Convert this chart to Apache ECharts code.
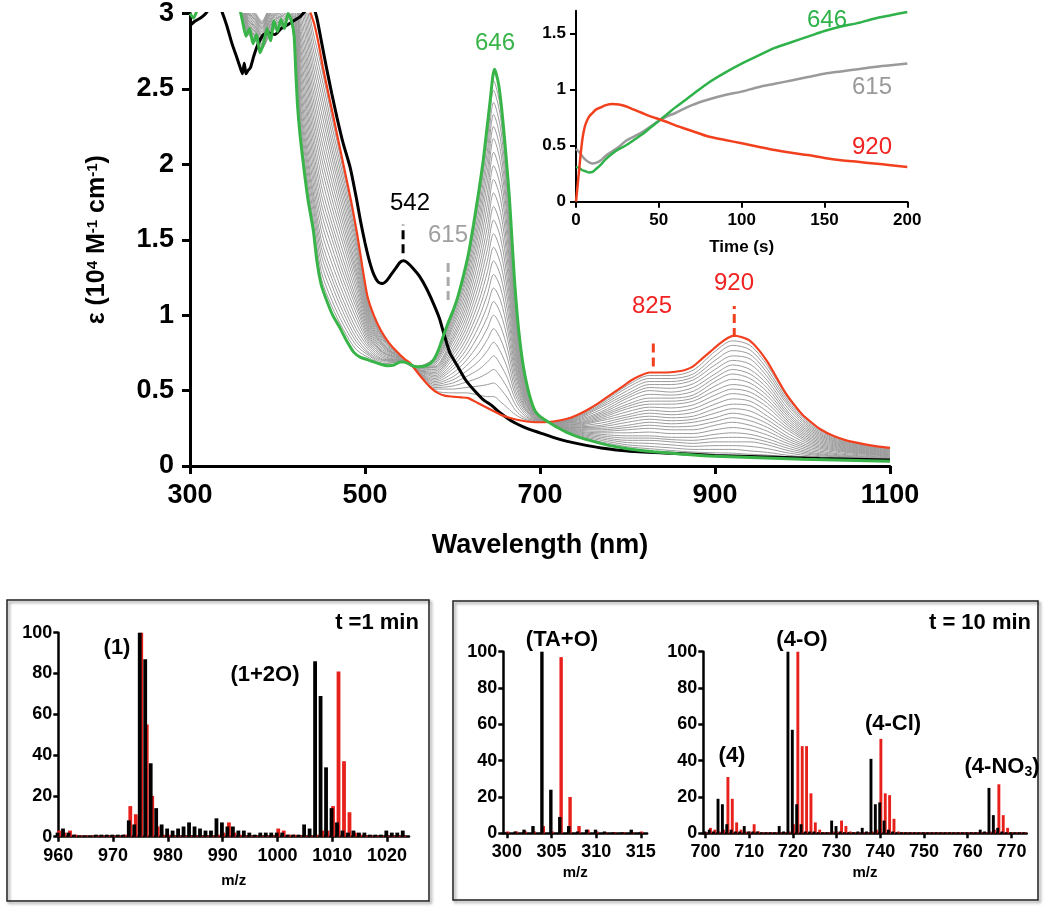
<!DOCTYPE html>
<html>
<head>
<meta charset="utf-8">
<script src="https://cdn.jsdelivr.net/npm/echarts@6/dist/echarts.min.js"></script>
<style>html,body{margin:0;padding:0;background:#fff}#c{width:1050px;height:911px}</style>
</head>
<body>
<div id="c"></div>
<script>
// ---------------- DATA ----------------
// Main UV-vis spectra (wavelength nm, epsilon 10^4 M-1 cm-1)
const blackWl = [300,306,312,318,324,330,336,342,348,354,358,360,362,364,366,369,373,378,384,390,397,404,410,418,426,434,440,445,450,456,462,468,475,483,490,495,500,505,510,515,520,525,530,535,540,544,548,555,562,570,578,585,590,597,605,615,625,635,645,655,670,685,700,715,730,750,770,800,850,900,960,1020,1100];
const blackEps = [2.92,2.95,2.97,3.0,3.05,3.1,3.02,2.92,2.8,2.7,2.63,2.6,2.67,2.6,2.62,2.64,2.72,2.8,2.86,2.87,2.86,2.9,2.92,2.95,2.98,3.03,3.05,2.97,2.82,2.64,2.47,2.31,2.14,1.98,1.78,1.62,1.48,1.36,1.27,1.22,1.21,1.23,1.27,1.31,1.35,1.36,1.35,1.31,1.26,1.18,1.08,0.98,0.88,0.75,0.67,0.57,0.5,0.44,0.4,0.35,0.29,0.25,0.22,0.19,0.165,0.14,0.12,0.1,0.085,0.07,0.06,0.05,0.04];

const redWl = [430,437,442,447,452,460,468,476,484,491,497,503,510,518,527,536,545,552,560,567,575,583,592,600,610,618,625,635,645,655,665,675,685,695,705,715,725,735,745,755,765,775,785,795,805,815,825,835,845,855,865,875,885,895,905,915,922,930,940,950,960,970,980,990,1000,1010,1020,1035,1050,1070,1085,1100];
const redEps = [3.2,3.02,2.93,2.8,2.64,2.42,2.2,1.98,1.76,1.54,1.32,1.12,1.0,0.9,0.82,0.76,0.71,0.68,0.62,0.57,0.52,0.485,0.465,0.46,0.455,0.45,0.43,0.4,0.37,0.34,0.32,0.305,0.295,0.29,0.29,0.295,0.305,0.32,0.345,0.375,0.41,0.45,0.49,0.53,0.57,0.6,0.62,0.62,0.62,0.625,0.635,0.66,0.71,0.76,0.81,0.85,0.865,0.855,0.83,0.77,0.69,0.59,0.49,0.41,0.34,0.29,0.245,0.2,0.17,0.145,0.13,0.12];

const greenWl = [300,304,308,312,340,356,360,364,368,372,376,380,384,388,392,396,400,404,408,412,416,419,421,423,426,430,435,441,445,450,456,463,471,479,487,495,503,510,518,526,533,540,545,551,558,565,572,578,584,590,595,600,606,612,618,624,630,635,639,643,646,648,650,653,656,659,662,665,668,671,674,677,681,685,690,695,702,710,720,730,745,760,780,800,830,860,900,950,1000,1050,1100];
const greenEps = [3.0,2.97,3.02,3.1,3.3,3.05,2.95,2.85,2.9,2.8,2.86,2.74,2.8,2.9,2.82,2.95,2.88,2.96,2.9,3.0,2.95,2.85,2.6,2.38,2.18,1.98,1.76,1.56,1.36,1.2,1.1,1.0,0.92,0.83,0.755,0.72,0.705,0.69,0.675,0.665,0.67,0.69,0.69,0.675,0.658,0.66,0.67,0.7,0.77,0.87,0.95,1.02,1.12,1.25,1.4,1.6,1.82,2.02,2.22,2.42,2.58,2.63,2.6,2.52,2.38,2.2,2.0,1.78,1.5,1.22,1.0,0.83,0.66,0.54,0.43,0.36,0.32,0.29,0.255,0.225,0.19,0.165,0.135,0.115,0.095,0.08,0.065,0.055,0.045,0.038,0.032];

// intermediate (gray) spectra, sampled on a shared wavelength grid
const grayWl = [358,366,374,382,390,398,406,414,420,426,432,440,450,462,475,490,505,520,540,560,580,600,615,630,640,647,655,663,672,682,695,715,740,770,800,825,850,875,900,920,940,960,985,1010,1050,1100];
const gray00 = [3.19,3.05,3.01,2.95,3.03,3.09,3.11,3.15,3.47,3.305,3.15,2.895,2.65,2.315,1.965,1.545,1.065,0.87,0.74,0.62,0.5,0.485,0.485,0.47,0.46,0.46,0.425,0.385,0.34,0.31,0.295,0.294,0.325,0.42,0.535,0.6,0.6,0.635,0.76,0.83,0.8,0.665,0.435,0.28,0.165,0.117];
const gray01 = [3.18,3.04,3.00,2.94,3.02,3.08,3.10,3.14,3.44,3.26,3.10,2.84,2.59,2.26,1.92,1.51,1.05,0.86,0.74,0.62,0.51,0.51,0.52,0.53,0.54,0.55,0.51,0.45,0.37,0.32,0.30,0.293,0.32,0.41,0.52,0.58,0.58,0.61,0.73,0.80,0.77,0.64,0.42,0.27,0.16,0.113];
const gray01b = [3.175,3.035,2.995,2.935,3.015,3.075,3.095,3.135,3.41,3.21,3.045,2.785,2.53,2.205,1.875,1.48,1.035,0.855,0.735,0.625,0.52,0.53,0.555,0.585,0.615,0.64,0.59,0.515,0.405,0.335,0.30,0.2925,0.315,0.40,0.50,0.56,0.56,0.59,0.70,0.765,0.74,0.615,0.405,0.26,0.155,0.11];
const gray02 = [3.17,3.03,2.99,2.93,3.01,3.07,3.09,3.13,3.38,3.16,2.99,2.73,2.47,2.15,1.83,1.45,1.02,0.85,0.73,0.63,0.53,0.55,0.59,0.64,0.69,0.73,0.67,0.58,0.44,0.35,0.30,0.292,0.31,0.39,0.48,0.54,0.54,0.57,0.67,0.73,0.71,0.59,0.39,0.25,0.15,0.106];
const gray02b = [3.16,3.02,2.98,2.92,3.0,3.06,3.08,3.12,3.345,3.115,2.94,2.675,2.41,2.10,1.785,1.415,1.005,0.84,0.73,0.63,0.54,0.57,0.625,0.695,0.765,0.82,0.755,0.645,0.47,0.365,0.305,0.291,0.305,0.375,0.465,0.52,0.515,0.545,0.64,0.70,0.675,0.565,0.37,0.24,0.145,0.1025];
const gray03 = [3.15,3.01,2.97,2.91,2.99,3.05,3.07,3.11,3.31,3.07,2.89,2.62,2.35,2.05,1.74,1.38,0.99,0.83,0.73,0.63,0.55,0.59,0.66,0.75,0.84,0.91,0.84,0.71,0.50,0.38,0.31,0.29,0.30,0.36,0.45,0.50,0.49,0.52,0.61,0.67,0.64,0.54,0.35,0.23,0.14,0.099];
const gray03b = [3.145,3.005,2.965,2.905,2.985,3.045,3.065,3.105,3.28,3.025,2.835,2.565,2.29,1.995,1.695,1.345,0.975,0.82,0.725,0.63,0.56,0.615,0.695,0.81,0.915,1.0,0.925,0.775,0.535,0.39,0.31,0.2895,0.295,0.35,0.43,0.475,0.47,0.495,0.585,0.64,0.61,0.515,0.335,0.22,0.135,0.0955];
const gray04 = [3.14,3.00,2.96,2.90,2.98,3.04,3.06,3.10,3.25,2.98,2.78,2.51,2.23,1.94,1.65,1.31,0.96,0.81,0.72,0.63,0.57,0.64,0.73,0.87,0.99,1.09,1.01,0.84,0.57,0.40,0.31,0.289,0.29,0.34,0.41,0.45,0.45,0.47,0.56,0.61,0.58,0.49,0.32,0.21,0.13,0.092];
const gray04b = [3.13,2.99,2.95,2.89,2.97,3.03,3.05,3.09,3.22,2.93,2.73,2.455,2.17,1.885,1.605,1.28,0.945,0.805,0.72,0.635,0.58,0.66,0.765,0.925,1.065,1.18,1.095,0.90,0.605,0.415,0.315,0.288,0.285,0.33,0.395,0.43,0.43,0.45,0.53,0.575,0.55,0.465,0.305,0.20,0.125,0.0885];
const gray05 = [3.12,2.98,2.94,2.88,2.96,3.02,3.04,3.08,3.19,2.88,2.68,2.40,2.11,1.83,1.56,1.25,0.93,0.80,0.72,0.64,0.59,0.68,0.80,0.98,1.14,1.27,1.18,0.96,0.64,0.43,0.32,0.287,0.28,0.32,0.38,0.41,0.41,0.43,0.50,0.54,0.52,0.44,0.29,0.19,0.12,0.085];
const gray05b = [3.11,2.97,2.93,2.87,2.95,3.01,3.03,3.07,3.16,2.835,2.63,2.345,2.05,1.775,1.515,1.215,0.915,0.79,0.72,0.64,0.60,0.705,0.835,1.035,1.215,1.36,1.26,1.025,0.67,0.44,0.32,0.286,0.275,0.31,0.36,0.39,0.385,0.405,0.47,0.51,0.49,0.415,0.275,0.18,0.115,0.0815];
const gray06 = [3.10,2.96,2.92,2.86,2.94,3.00,3.02,3.06,3.13,2.79,2.58,2.29,1.99,1.72,1.47,1.18,0.90,0.78,0.72,0.64,0.61,0.73,0.87,1.09,1.29,1.45,1.34,1.09,0.70,0.45,0.32,0.285,0.27,0.30,0.34,0.37,0.36,0.38,0.44,0.48,0.46,0.39,0.26,0.17,0.11,0.078];
const gray06b = [3.095,2.955,2.915,2.855,2.935,2.995,3.015,3.055,3.095,2.745,2.525,2.235,1.925,1.665,1.42,1.145,0.885,0.77,0.715,0.64,0.62,0.75,0.905,1.145,1.365,1.54,1.425,1.155,0.735,0.465,0.325,0.2845,0.265,0.285,0.325,0.35,0.34,0.355,0.41,0.445,0.43,0.36,0.245,0.16,0.105,0.0745];
const gray07 = [3.09,2.95,2.91,2.85,2.93,2.99,3.01,3.05,3.06,2.70,2.47,2.18,1.86,1.61,1.37,1.11,0.87,0.76,0.71,0.64,0.63,0.77,0.94,1.20,1.44,1.63,1.51,1.22,0.77,0.48,0.33,0.284,0.26,0.27,0.31,0.33,0.32,0.33,0.38,0.41,0.40,0.33,0.23,0.15,0.10,0.071];
const gray07b = [3.08,2.94,2.90,2.84,2.92,2.98,3.0,3.04,3.03,2.65,2.42,2.125,1.80,1.56,1.325,1.08,0.855,0.755,0.71,0.645,0.64,0.795,0.975,1.255,1.515,1.72,1.595,1.285,0.80,0.49,0.335,0.283,0.255,0.26,0.29,0.31,0.30,0.31,0.35,0.38,0.365,0.305,0.21,0.14,0.095,0.0675];
const gray08 = [3.07,2.93,2.89,2.83,2.91,2.97,2.99,3.03,3.00,2.60,2.37,2.07,1.74,1.51,1.28,1.05,0.84,0.75,0.71,0.65,0.65,0.82,1.01,1.31,1.59,1.81,1.68,1.35,0.83,0.50,0.34,0.282,0.25,0.25,0.27,0.29,0.28,0.29,0.32,0.35,0.33,0.28,0.19,0.13,0.09,0.064];
const gray08b = [3.065,2.925,2.885,2.825,2.905,2.965,2.985,3.025,2.97,2.555,2.315,2.015,1.68,1.455,1.235,1.015,0.825,0.74,0.705,0.65,0.655,0.84,1.045,1.37,1.665,1.90,1.765,1.415,0.865,0.515,0.34,0.2815,0.245,0.24,0.255,0.27,0.26,0.265,0.295,0.32,0.30,0.255,0.175,0.12,0.0825,0.0605];
const gray09 = [3.06,2.92,2.88,2.82,2.90,2.96,2.98,3.02,2.94,2.51,2.26,1.96,1.62,1.40,1.19,0.98,0.81,0.73,0.70,0.65,0.66,0.86,1.08,1.43,1.74,1.99,1.85,1.48,0.90,0.53,0.34,0.281,0.24,0.23,0.24,0.25,0.24,0.24,0.27,0.29,0.27,0.23,0.16,0.11,0.075,0.057];
const gray09b = [3.05,2.91,2.87,2.81,2.89,2.95,2.97,3.01,2.91,2.46,2.21,1.905,1.56,1.345,1.145,0.945,0.795,0.72,0.70,0.65,0.67,0.885,1.115,1.485,1.815,2.08,1.93,1.545,0.935,0.545,0.345,0.28,0.235,0.22,0.22,0.225,0.215,0.215,0.24,0.255,0.24,0.205,0.145,0.10,0.0695,0.0535];
const gray10 = [3.04,2.90,2.86,2.80,2.88,2.94,2.96,3.00,2.88,2.41,2.16,1.85,1.50,1.29,1.10,0.91,0.78,0.71,0.70,0.65,0.68,0.91,1.15,1.54,1.89,2.17,2.01,1.61,0.97,0.56,0.35,0.279,0.23,0.21,0.20,0.20,0.19,0.19,0.21,0.22,0.21,0.18,0.13,0.09,0.064,0.05];
const gray10b = [3.035,2.895,2.855,2.795,2.875,2.935,2.955,2.995,2.85,2.37,2.115,1.805,1.45,1.245,1.06,0.88,0.765,0.705,0.70,0.655,0.69,0.93,1.185,1.59,1.96,2.25,2.085,1.665,0.995,0.57,0.35,0.2785,0.225,0.20,0.185,0.185,0.175,0.17,0.185,0.19,0.185,0.16,0.115,0.0825,0.0595,0.0465];
const gray11 = [3.03,2.89,2.85,2.79,2.87,2.93,2.95,2.99,2.82,2.33,2.07,1.76,1.40,1.20,1.02,0.85,0.75,0.70,0.70,0.66,0.70,0.95,1.22,1.64,2.03,2.33,2.16,1.72,1.02,0.58,0.35,0.278,0.22,0.19,0.17,0.17,0.16,0.15,0.16,0.16,0.16,0.14,0.10,0.075,0.055,0.043];
const gray11b = [3.02,2.88,2.84,2.78,2.86,2.92,2.94,2.98,2.795,2.29,2.025,1.71,1.345,1.15,0.98,0.825,0.74,0.69,0.695,0.66,0.71,0.97,1.25,1.69,2.095,2.41,2.235,1.775,1.05,0.59,0.355,0.277,0.215,0.18,0.155,0.15,0.14,0.13,0.135,0.135,0.13,0.115,0.085,0.0665,0.0505,0.04];
const gray12 = [3.01,2.87,2.83,2.77,2.85,2.91,2.93,2.97,2.77,2.25,1.98,1.66,1.29,1.10,0.94,0.80,0.73,0.68,0.69,0.66,0.72,0.99,1.28,1.74,2.16,2.49,2.31,1.83,1.08,0.60,0.36,0.276,0.21,0.17,0.14,0.13,0.12,0.11,0.11,0.11,0.10,0.09,0.07,0.058,0.046,0.037];
const gray12b = [3.005,2.865,2.825,2.765,2.845,2.905,2.925,2.965,2.745,2.215,1.94,1.62,1.245,1.06,0.9075,0.7725,0.7165,0.676,0.69,0.66,0.725,1.005,1.305,1.78,2.215,2.555,2.37,1.88,1.105,0.61,0.36,0.2755,0.205,0.16,0.1275,0.115,0.1025,0.0925,0.0875,0.085,0.0775,0.0725,0.06,0.0505,0.042,0.0345];
const grayList = [gray00,gray01,gray01b,gray02,gray02b,gray03,gray03b,gray04,gray04b,gray05,gray05b,gray06,gray06b,gray07,gray07b,gray08,gray08b,gray09,gray09b,gray10,gray10b,gray11,gray11b,gray12,gray12b];

// peak marker positions [wavelength, from, to]
const markers542 = [543.5, 1.41, 1.60];
const markers615 = [595, 1.10, 1.36];
const markers825 = [829.5, 0.66, 0.83];
const markers920 = [922, 0.855, 1.06];

// Inset kinetics (time s)
const insetTime = [0,2,4,6,8,10,12,15,18,22,26,30,35,40,45,50,55,60,70,80,90,100,110,120,130,140,150,160,170,180,190,200];
const kin646 = [0.31,0.30,0.28,0.27,0.26,0.265,0.29,0.33,0.38,0.43,0.47,0.50,0.55,0.60,0.66,0.72,0.78,0.84,0.95,1.06,1.15,1.23,1.30,1.37,1.42,1.47,1.52,1.56,1.59,1.63,1.66,1.69];
const kin615 = [0.47,0.44,0.40,0.37,0.35,0.34,0.345,0.37,0.41,0.45,0.49,0.54,0.58,0.62,0.67,0.72,0.76,0.79,0.86,0.91,0.95,0.98,1.02,1.05,1.08,1.11,1.14,1.16,1.18,1.20,1.215,1.23];
const insetTime920 = [0,1,2,3,4,5,6,8,10,12,15,18,22,26,30,35,40,45,50,55,60,70,80,90,100,110,120,130,140,150,160,170,180,190,200];
const kin920 = [0.0,0.15,0.3,0.45,0.57,0.65,0.7,0.76,0.79,0.82,0.84,0.86,0.87,0.865,0.85,0.82,0.79,0.76,0.735,0.71,0.68,0.63,0.58,0.55,0.52,0.49,0.46,0.435,0.415,0.39,0.37,0.355,0.34,0.325,0.31];

// Mass spectra: t = 1 min
const ms1Mz = [960,961,962,963,964,965,966,967,968,969,970,971,972,973,974,975,976,977,978,979,980,981,982,983,984,985,986,987,988,989,990,991,992,993,994,995,996,997,998,999,1000,1001,1002,1003,1004,1005,1006,1007,1008,1009,1010,1011,1012,1013,1014,1015,1016,1017,1018,1019,1020,1021,1022,1023];
const ms1Exp = [2,4,2,1,0.5,0.5,0.5,1,1,1,1,1,1,8,6,100,87,36,14,6,4,3,4,5,7,5,4,3,3,9,7,5,5,3,3,2,1,2,2,2,2,2,1,1,1,6,4,86,69,34,14,7,3,2,3,2,2,1,1,1,3,2,2,3];
const ms1Sim = [3,2,3,1,0.5,0.5,0.5,0.5,0.5,0.5,0.5,0.5,1,15,11,100,55,20,5,1,1,0.5,0.5,0.5,0.5,0.5,0.5,0.5,0.5,1,2,7,2,1,0.5,0.5,0.5,0.5,0.5,0.5,4,3,1,1,0.5,0.5,0.5,1,3,3,15,81,37,12,2,1,0.5,0.5,0.5,0.5,0.5,0.5,0.5,0.5];

// t = 10 min, low mass window
const ms2aMz = [300,301,302,303,304,305,306,307,308,309,310,311,312,313,314,315];
const ms2aExp = [0.5,1,2,4,100,24,9,4,1,2,2,1,0.5,0.5,2,0.5];
const ms2aSim = [1,1,1,1,4,1,97,20,4,2,1,0.5,0.5,0.5,0.5,1];

// t = 10 min, high mass window
const ms2bMz = [700,701,702,703,704,705,706,707,708,709,710,711,712,713,714,715,716,717,718,719,720,721,722,723,724,725,726,727,728,729,730,731,732,733,734,735,736,737,738,739,740,741,742,743,744,745,746,747,748,749,750,751,752,753,754,755,756,757,758,759,760,761,762,763,764,765,766,767,768,769,770,771,772,773];
const ms2bExp = [1,2,1,19,16,5,2,1,1,4,1,1,1,0.5,0.5,0.5,0.5,4,1,100,57,16,5,1,1,1,0.5,0.5,0.5,7,4,1,0.5,0.5,0.5,1,3,1,41,16,17,7,2,1,0.5,0.5,0.5,0.5,0.5,0.5,0.5,0.5,0.5,0.5,0.5,0.5,0.5,0.5,0.5,0.5,0.5,0.5,0.5,2,1,25,10,3,1,0.5,0.5,0.5,0.5,0.5];
const ms2bSim = [0.5,3,2,1,2,31,19,6,2,1,1,5,1,0.5,0.5,0.5,0.5,0.5,0.5,1,5,100,48,48,22,6,2,0.5,0.5,1,1,7,4,1,0.5,0.5,0.5,0.5,1,2,52,22,21,8,1,0.5,0.5,0.5,0.5,0.5,0.5,0.5,0.5,0.5,0.5,0.5,0.5,0.5,0.5,0.5,0.5,0.5,0.5,0.5,0.5,1,2,27,10,3,0.5,0.5,0.5,0.5];

// ---------------- CHART ----------------
const FF = '"Liberation Sans", Arial, Helvetica, sans-serif';
const GREEN = '#38b449', RED = '#f2401f', GRAY = '#9b9b9b';
const zip = (xs, ys) => xs.map((x, i) => [x, ys[i]]);
const plain = v => String(v);

function axisBase(lineW, fontSize, tickLen, margin) {
  return {
    axisLine: {show: true, onZero: false, lineStyle: {color: '#000', width: lineW}},
    axisTick: {show: true, length: tickLen, lineStyle: {color: '#000', width: lineW}},
    axisLabel: {color: '#000', fontSize: fontSize, fontWeight: 'bold', fontFamily: FF, margin: margin, formatter: plain},
    splitLine: {show: false}
  };
}

const chart = echarts.init(document.getElementById('c'), null, {width: 1050, height: 911, renderer: 'canvas'});

const series = [];
grayList.forEach(g => series.push({
  type: 'line', xAxisIndex: 0, yAxisIndex: 0, data: zip(grayWl, g),
  showSymbol: false, smooth: 0.3, lineStyle: {color: GRAY, width: 1}, z: 2, silent: true
}));
series.push({type: 'line', xAxisIndex: 0, yAxisIndex: 0, data: zip(blackWl, blackEps), showSymbol: false, smooth: 0.2, lineStyle: {color: '#000', width: 3}, z: 3});
series.push({type: 'line', xAxisIndex: 0, yAxisIndex: 0, data: zip(redWl, redEps), showSymbol: false, smooth: 0.2, lineStyle: {color: RED, width: 2.2}, z: 4});
series.push({type: 'line', xAxisIndex: 0, yAxisIndex: 0, data: zip(greenWl, greenEps), showSymbol: false, smooth: 0.2, lineStyle: {color: GREEN, width: 3}, z: 5});

function markerSeries(m, color) {
  return {type: 'line', xAxisIndex: 0, yAxisIndex: 0, data: [[m[0], m[1]], [m[0], m[2]]], showSymbol: false,
    lineStyle: {color: color, width: 3, type: [9, 5]}, z: 6};
}
series.push(markerSeries(markers542, '#000'));
series.push(markerSeries(markers615, '#aaaaaa'));
series.push(markerSeries(markers825, RED));
series.push(markerSeries(markers920, RED));

// inset
series.push({type: 'line', xAxisIndex: 1, yAxisIndex: 1, data: zip(insetTime, kin615), showSymbol: false, smooth: 0.3, lineStyle: {color: '#9a9a9a', width: 2.5}, z: 7});
series.push({type: 'line', xAxisIndex: 1, yAxisIndex: 1, data: zip(insetTime, kin646), showSymbol: false, smooth: 0.3, lineStyle: {color: '#2fb24a', width: 2.5}, z: 7});
series.push({type: 'line', xAxisIndex: 1, yAxisIndex: 1, data: zip(insetTime920, kin920), showSymbol: false, smooth: 0.3, lineStyle: {color: RED, width: 2.5}, z: 7});

// mass spectra
function barPair(xi, mz, exp, sim, w) {
  return [
    {type: 'bar', xAxisIndex: xi, yAxisIndex: xi, data: zip(mz, exp), barWidth: w, barGap: '-60%', itemStyle: {color: '#000'}, z: 3},
    {type: 'bar', xAxisIndex: xi, yAxisIndex: xi, data: zip(mz, sim), barWidth: w, barGap: '-60%', itemStyle: {color: '#e8201c'}, z: 2}
  ];
}
series.push(...barPair(2, ms1Mz, ms1Exp, ms1Sim, 3.8));
series.push(...barPair(3, ms2aMz, ms2aExp, ms2aSim, 3.4));
series.push(...barPair(4, ms2bMz, ms2bExp, ms2bSim, 2.9));

const mainX = Object.assign(axisBase(3, 27, 8, 16), {gridIndex: 0, type: 'value', min: 300, max: 1100, interval: 200,
  name: 'Wavelength (nm)', nameLocation: 'middle', nameGap: 66,
  nameTextStyle: {color: '#000', fontSize: 27, fontWeight: 'bold', fontFamily: FF}});
const mainY = Object.assign(axisBase(3, 27, 8, 16), {gridIndex: 0, type: 'value', min: 0, max: 3, interval: 0.5,
  name: '{e|ε (10}{s|4}{e| M}{s|-1}{e| cm}{s|-1}{e|)}', nameLocation: 'middle', nameGap: 80, nameRotate: 90,
  nameTextStyle: {color: '#000', fontFamily: FF, rich: {
    e: {fontSize: 25, fontWeight: 'bold', fontFamily: FF, color: '#000'},
    s: {fontSize: 15, fontWeight: 'bold', fontFamily: FF, color: '#000', verticalAlign: 'top', padding: [0, 0, 10, 0]}
  }}});
const insX = Object.assign(axisBase(2, 17, 6, 10), {gridIndex: 1, type: 'value', min: 0, max: 200, interval: 50,
  name: 'Time (s)', nameLocation: 'middle', nameGap: 37,
  nameTextStyle: {color: '#000', fontSize: 17, fontWeight: 'bold', fontFamily: FF}});
const insY = Object.assign(axisBase(2, 17, 6, 10), {gridIndex: 1, type: 'value', min: 0, max: 1.7, interval: 0.5});
insY.axisLabel.customValues = [0, 0.5, 1, 1.5];
insY.axisTick.customValues = [0, 0.5, 1, 1.5];

function msX(gi, min, max, ticks, gap) {
  const a = Object.assign(axisBase(2.5, 18, 5, 10), {gridIndex: gi, type: 'value', min: min, max: max,
    name: 'm/z', nameLocation: 'middle', nameGap: gap,
    nameTextStyle: {color: '#000', fontSize: 15, fontWeight: 'bold', fontFamily: FF}});
  a.axisLabel.customValues = ticks;
  a.axisTick.customValues = ticks;
  return a;
}
function msY(gi) {
  return Object.assign(axisBase(2.5, 18, 5, 6), {gridIndex: gi, type: 'value', min: 0, max: 100, interval: 20});
}

function txt(t, x, y, color, size, weight, extra) {
  return Object.assign({type: 'text', x: x, y: y, z: 100, style: Object.assign({text: t, fill: color, fontSize: size,
    fontWeight: weight, fontFamily: FF, align: 'center', verticalAlign: 'middle'}, extra || {})});
}

const option = {
  animation: false,
  backgroundColor: '#ffffff',
  grid: [
    {left: 190, top: 12, width: 700, height: 454},
    {left: 576, top: 10.8, width: 331.3, height: 190.9},
    {left: 58.3, top: 632.7, width: 350.7, height: 204},
    {left: 503.3, top: 651.7, width: 143.8, height: 181.6},
    {left: 703.3, top: 651.7, width: 323.4, height: 181.6}
  ],
  xAxis: [mainX, insX,
    msX(2, 960, 1024, [960, 970, 980, 990, 1000, 1010, 1020], 37),
    msX(3, 299.6, 315.7, [300, 305, 310, 315], 32),
    msX(4, 699.5, 773.5, [700, 710, 720, 730, 740, 750, 760, 770], 32)],
  yAxis: [mainY, insY, msY(2), msY(3), msY(4)],
  series: series,
  graphic: [
    {type: 'rect', z: 0, shape: {x: 7, y: 600, width: 422, height: 301},
      style: {fill: 'none', stroke: '#222', lineWidth: 1.5, shadowBlur: 3, shadowOffsetX: 2, shadowOffsetY: 2, shadowColor: 'rgba(0,0,0,0.45)'}},
    {type: 'rect', z: 0, shape: {x: 453, y: 601, width: 585, height: 299},
      style: {fill: 'none', stroke: '#222', lineWidth: 1.5, shadowBlur: 3, shadowOffsetX: 2, shadowOffsetY: 2, shadowColor: 'rgba(0,0,0,0.45)'}},
    txt('542', 410, 203, '#000', 24, 'normal'),
    txt('615', 448, 235, '#a0a0a0', 24, 'normal'),
    txt('646', 495, 43, GREEN, 24, 'normal'),
    txt('825', 652, 306, '#f02222', 24, 'normal'),
    txt('920', 734, 283, '#f02222', 24, 'normal'),
    txt('646', 827, 20, '#2fb24a', 24, 'normal'),
    txt('615', 872, 87, '#9a9a9a', 24, 'normal'),
    txt('920', 872, 147, '#f02222', 24, 'normal'),
    txt('t =1 min', 377, 623, '#000', 22, 'bold'),
    txt('(1)', 117, 648, '#000', 22, 'bold'),
    txt('(1+2O)', 265, 675, '#000', 22, 'bold'),
    txt('(TA+O)', 562, 640, '#000', 22, 'bold'),
    txt('t = 10 min', 980, 623, '#000', 22, 'bold'),
    txt('(4-O)', 802, 640, '#000', 22, 'bold'),
    txt('(4)', 732, 756, '#000', 22, 'bold'),
    txt('(4-Cl)', 893, 724, '#000', 22, 'bold'),
    txt('(4-NO{s|3})', 1002, 767, '#000', 22, 'bold', {rich: {s: {fontSize: 14, fontWeight: 'bold', fontFamily: FF, fill: '#000', padding: [10, 0, 0, 0]}}})
  ]
};
chart.setOption(option);
</script>
</body>
</html>
